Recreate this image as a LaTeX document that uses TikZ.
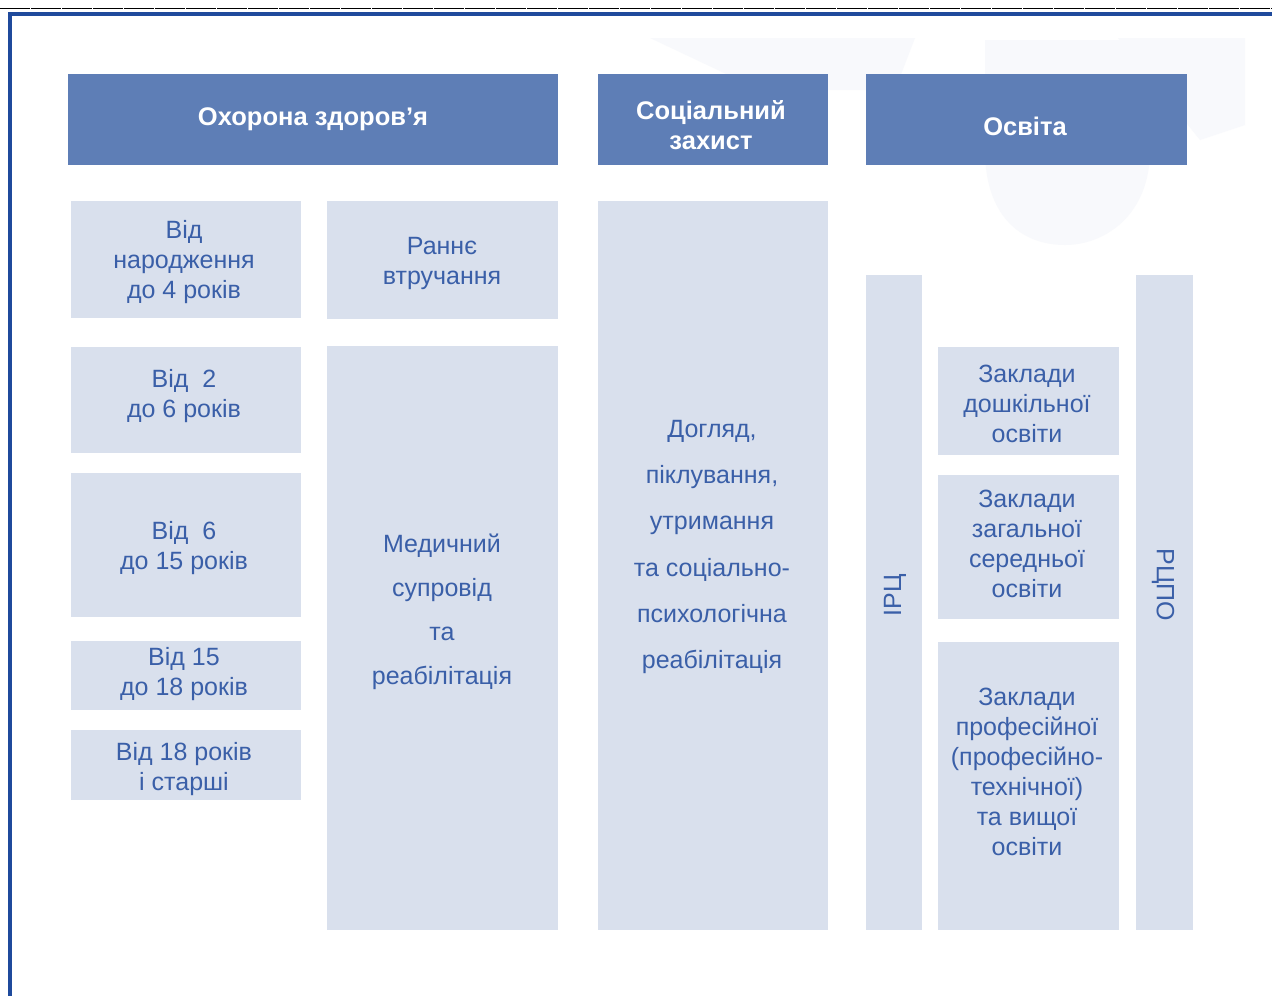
\documentclass[tikz,border=0pt]{standalone}
\usepackage{fontspec}
\setmainfont{Liberation Sans}
\definecolor{hdr}{HTML}{5E7EB6}
\definecolor{lite}{HTML}{D9E0ED}
\definecolor{txt}{HTML}{3A5FA8}
\definecolor{frame}{HTML}{1F4A9C}
\definecolor{wmark}{HTML}{F8F9FC}
\begin{document}
\begin{tikzpicture}[x=1pt,y=-1pt,
  hbox/.style={fill=hdr, anchor=north west, inner sep=0pt},
  lbox/.style={fill=lite, anchor=north west, inner sep=0pt},
  htext/.style={text=white, align=center, font=\fontsize{25.5}{30}\selectfont\bfseries, inner sep=0pt},
  btext/.style={text=txt, align=center, font=\fontsize{25}{30}\selectfont, inner sep=0pt},
]
\useasboundingbox (0,0) rectangle (1272,996);
\fill[white] (0,0) rectangle (1272,996);
% faint watermark
\fill[wmark] (985,40) -- (1150,40) -- (1150,150) .. controls (1150,215) and (1105,245) .. (1065,245) .. controls (1020,245) and (985,215) .. (985,150) -- cycle;
\fill[wmark] (1118,38) -- (1245,38) -- (1245,125) -- (1200,140) -- cycle;
\fill[wmark] (650,38) -- (915,38) -- (895,90) -- (760,90) -- cycle;
% frame
\draw[black, line width=0.8pt, dash pattern=on 30pt off 1pt] (0,8) -- (1272,8);
\fill[frame] (8,12) rectangle (1272,16);
\fill[frame] (8,12) rectangle (12,996);
% headers
\node[hbox, minimum width=490pt, minimum height=91pt] (h1) at (68,74) {};
\node[htext] (h1t) at (313,119) {Охорона здоров’я};
\node[hbox, minimum width=230pt, minimum height=91pt] (h2) at (598,74) {};
\node[htext] (h2t) at (711,125) {Соціальний\\захист};
\node[hbox, minimum width=321pt, minimum height=91pt] (h3) at (866,74) {};
\node[htext] (h3t) at (1025,126) {Освіта};
% column 1
\node[lbox, minimum width=230pt, minimum height=117pt] (a1) at (71,201) {};
\node[btext] (a1t) at (184,262) {Від\\народження\\до 4 років};
\node[lbox, minimum width=230pt, minimum height=106pt] (a2) at (71,347) {};
\node[btext] (a2t) at (184,396) {Від~~2\\до 6 років};
\node[lbox, minimum width=230pt, minimum height=144pt] (a3) at (71,473) {};
\node[btext] (a3t) at (184,548) {Від~~6\\до 15 років};
\node[lbox, minimum width=230pt, minimum height=69pt] (a4) at (71,641) {};
\node[btext] (a4t) at (184,674) {Від 15\\до 18 років};
\node[lbox, minimum width=230pt, minimum height=70pt] (a5) at (71,730) {};
\node[btext] (a5t) at (184,769) {Від 18 років\\і старші};
% column 2
\node[lbox, minimum width=231pt, minimum height=118pt] (b1) at (327,201) {};
\node[btext] (b1t) at (442,263) {Раннє\\втручання};
\node[lbox, minimum width=231pt, minimum height=584pt] (b2) at (327,346) {};
\node[btext, font=\fontsize{25}{44}\selectfont] (b2t) at (442,612) {Медичний\\супровід\\та\\реабілітація};
% column 3
\node[lbox, minimum width=230pt, minimum height=729pt] (c1) at (598,201) {};
\node[btext, font=\fontsize{25}{46.2}\selectfont] (c1t) at (712,547) {Догляд,\\піклування,\\утримання\\та соціально-\\психологічна\\реабілітація};
% column 4
\node[lbox, minimum width=56pt, minimum height=655pt] (d1) at (866,275) {};
\node[btext, rotate=90] (d1t) at (895,595) {ІРЦ};
\node[lbox, minimum width=181pt, minimum height=108pt] (e1) at (938,347) {};
\node[btext] (e1t) at (1027,404) {Заклади\\дошкільної\\освіти};
\node[lbox, minimum width=181pt, minimum height=144pt] (e2) at (938,475) {};
\node[btext] (e2t) at (1027,544) {Заклади\\загальної\\середньої\\освіти};
\node[lbox, minimum width=181pt, minimum height=288pt] (e3) at (938,642) {};
\node[btext] (e3t) at (1027,772) {Заклади\\професійної\\(професійно-\\технічної)\\та вищої\\освіти};
\node[lbox, minimum width=57pt, minimum height=655pt] (f1) at (1136,275) {};
\node[btext, rotate=-90] (f1t) at (1163,585) {РЦПО};
\end{tikzpicture}
\end{document}
